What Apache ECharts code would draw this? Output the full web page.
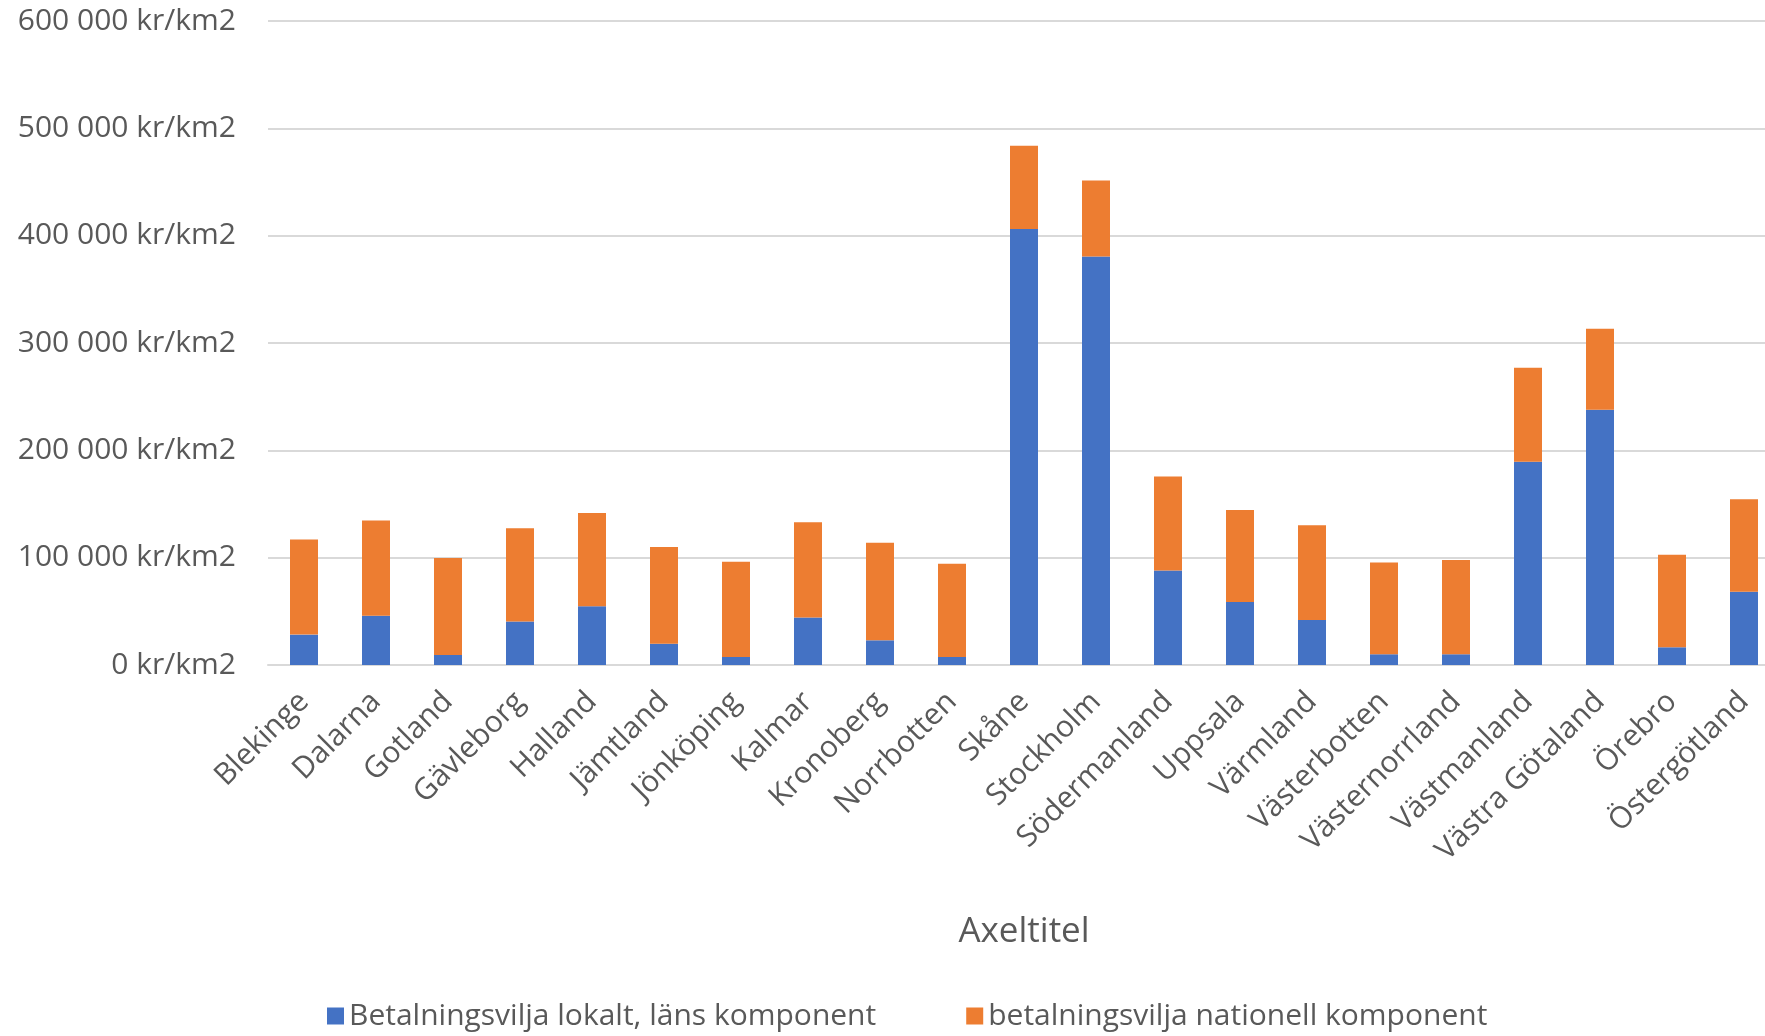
<!DOCTYPE html>
<html>
<head>
<meta charset="utf-8">
<script src="https://cdn.jsdelivr.net/npm/echarts@6/dist/echarts.min.js"></script>
<style>
  html, body { margin: 0; padding: 0; background: #fff; }
  #chart { width: 1765px; height: 1036px; }
</style>
</head>
<body>
<div id="chart"></div>
<script>
// län (categories)
var lan = ['Blekinge', 'Dalarna', 'Gotland', 'Gävleborg', 'Halland', 'Jämtland', 'Jönköping',
  'Kalmar', 'Kronoberg', 'Norrbotten', 'Skåne', 'Stockholm', 'Södermanland', 'Uppsala',
  'Värmland', 'Västerbotten', 'Västernorrland', 'Västmanland', 'Västra Götaland', 'Örebro', 'Östergötland'];

// kr/km2
var lokalt = [28300, 45900, 9400, 40600, 54700, 19800, 7500,
  44300, 23000, 7500, 406200, 380700, 88000, 58700,
  42000, 10000, 10000, 189400, 237700, 16500, 68200];
var nationell = [88700, 88700, 90300, 86800, 86800, 90200, 88700,
  88700, 90800, 86800, 77600, 70700, 87700, 85600,
  88200, 85600, 87800, 87600, 75600, 86300, 86300];

var yTicks = [0, 100000, 200000, 300000, 400000, 500000, 600000];

var serieNamn = ['Betalningsvilja lokalt, läns komponent', 'betalningsvilja nationell komponent'];

var font = 'Open Sans';
var textColor = '#595959';

function krFormat(v) {
  var s = String(v).replace(/\B(?=(\d{3})+(?!\d))/g, ' ');
  return s + ' kr/km2';
}

var myChart = echarts.init(document.getElementById('chart'));
var option = {
  animation: false,
  textStyle: { fontFamily: font },
  color: ['#4472C4', '#ED7D31'],
  grid: {
    left: 268,
    top: 21,
    width: 1512,
    height: 644,
    outerBoundsMode: 'none'
  },
  xAxis: {
    type: 'category',
    data: lan,
    name: 'Axeltitel',
    nameLocation: 'middle',
    nameGap: 250,
    nameTextStyle: { color: textColor, fontSize: 35, fontFamily: font },
    axisTick: { show: false },
    axisLine: { show: true, lineStyle: { color: '#D9D9D9', width: 2 } },
    axisLabel: {
      rotate: 45,
      margin: 32,
      color: textColor,
      fontSize: 30,
      fontFamily: font,
      interval: 0
    }
  },
  yAxis: {
    type: 'value',
    min: yTicks[0],
    max: yTicks[yTicks.length - 1],
    interval: 100000,
    axisLine: { show: false },
    axisTick: { show: false },
    splitLine: { lineStyle: { color: '#D9D9D9', width: 2 } },
    axisLabel: {
      margin: 32,
      color: textColor,
      fontSize: 30,
      fontFamily: font,
      formatter: krFormat
    }
  },
  legend: {
    data: serieNamn,
    left: 322,
    bottom: 0,
    icon: 'rect',
    itemWidth: 17,
    itemHeight: 17,
    itemGap: 90,
    textStyle: { color: textColor, fontSize: 30, fontFamily: font }
  },
  series: [
    {
      name: serieNamn[0],
      type: 'bar',
      stack: 'total',
      barWidth: 28,
      data: lokalt
    },
    {
      name: serieNamn[1],
      type: 'bar',
      stack: 'total',
      barWidth: 28,
      data: nationell
    }
  ]
};
myChart.setOption(option);
</script>
</body>
</html>
